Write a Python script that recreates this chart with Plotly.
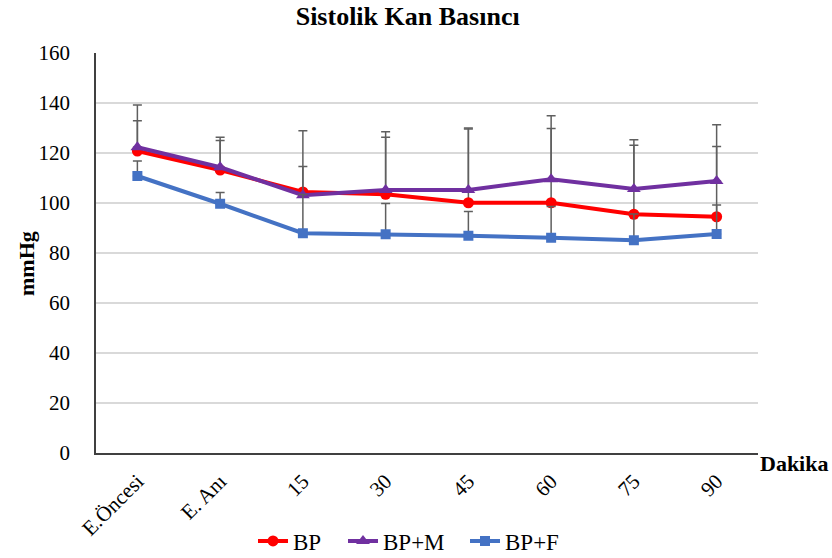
import plotly.graph_objects as go

# Measurement times
categories = ["E.Öncesi", "E. Anı", "15", "30", "45", "60", "75", "90"]

# Mean systolic pressure (mmHg) per group
bp = [120.8, 113.2, 104.4, 103.5, 100.1, 100.1, 95.5, 94.5]
bp_m = [122.3, 114.3, 103.1, 105.2, 105.2, 109.5, 105.6, 108.8]
bp_f = [110.8, 99.7, 87.9, 87.5, 86.9, 86.1, 85.1, 87.6]

# Upper error (SD) per group
bp_err = [12.1, 11.8, 24.5, 22.8, 29.5, 29.7, 27.6, 28.1]
bp_m_err = [16.9, 12.0, 11.5, 23.3, 24.8, 25.4, 19.7, 22.5]
bp_f_err = [6.0, 4.5, 15.5, 12.3, 9.7, 12.5, 10.5, 11.6]

y_ticks = [0, 20, 40, 60, 80, 100, 120, 140, 160]

FONT = "Liberation Serif, Times New Roman, serif"
ERR_COLOR = "#5f5f5f"

# name, values, error, colour, marker symbol, marker size, legend id, legend left edge (px)
series = [
    ("BP", bp, bp_err, "#FF0000", "circle", 11, "legend", 253),
    ("BP+M", bp_m, bp_m_err, "#7030A0", "triangle-up", 12, "legend2", 343),
    ("BP+F", bp_f, bp_f_err, "#4472C4", "square", 10, "legend3", 465),
]

fig = go.Figure()
legend_layout = {}
for name, vals, err, color, symbol, msize, leg, left in series:
    fig.add_trace(go.Scatter(
        x=categories, y=vals, name=name, mode="lines+markers",
        line=dict(color=color, width=4),
        marker=dict(symbol=symbol, size=msize, color=color),
        legend=leg,
        error_y=dict(type="data", symmetric=False, array=err,
                     arrayminus=[0] * len(err), color=ERR_COLOR,
                     thickness=1.5, width=4.5),
    ))
    legend_layout[leg] = dict(
        orientation="h", x=left / 832, xanchor="left", xref="container",
        y=1 - 541 / 558, yanchor="middle", yref="container",
        font=dict(family=FONT, size=23, color="black"),
        bgcolor="rgba(0,0,0,0)")

L, R, T, B = 96, 74, 53, 105
plot_w = 832 - L - R
plot_h = 558 - T - B

fig.update_layout(
    width=832, height=558,
    margin=dict(l=L, r=R, t=T, b=B),
    paper_bgcolor="white", plot_bgcolor="white",
    font=dict(family=FONT, size=21, color="black"),
    title=dict(text="<b>Sistolik Kan Basıncı</b>", x=0.49, xanchor="center",
               y=0.972, yanchor="middle", yref="container",
               font=dict(family=FONT, size=26, color="black")),
    showlegend=True,
    **legend_layout,
    xaxis=dict(type="category", range=[-0.5, 7.5], showline=True,
               linecolor="#404040", linewidth=1.5, showgrid=False,
               ticks="", tickangle=-45, automargin=False,
               ticklabelstandoff=6,
               tickfont=dict(family=FONT, size=21, color="black")),
    yaxis=dict(range=[0, 160], tickvals=y_ticks, showline=True,
               linecolor="#404040", linewidth=1.5, showgrid=True,
               gridcolor="#D9D9D9", gridwidth=1.5, zeroline=False,
               ticks="", ticklabelstandoff=20, automargin=False,
               tickfont=dict(family=FONT, size=21, color="black")),
    annotations=[
        # y-axis title, positioned in pixels relative to the plot area
        dict(text="<b>mmHg</b>", textangle=-90,
             x=(26 - L) / plot_w, xanchor="center",
             y=(453 - 264) / plot_h, yanchor="middle",
             xref="paper", yref="paper", showarrow=False,
             font=dict(family=FONT, size=22, color="black")),
        dict(text="<b>Dakika</b>", x=1.0, xref="paper", xanchor="left",
             y=0, yref="paper", yanchor="top", yshift=4,
             showarrow=False,
             font=dict(family=FONT, size=22, color="black")),
    ],
)

fig.write_html("out.html")
